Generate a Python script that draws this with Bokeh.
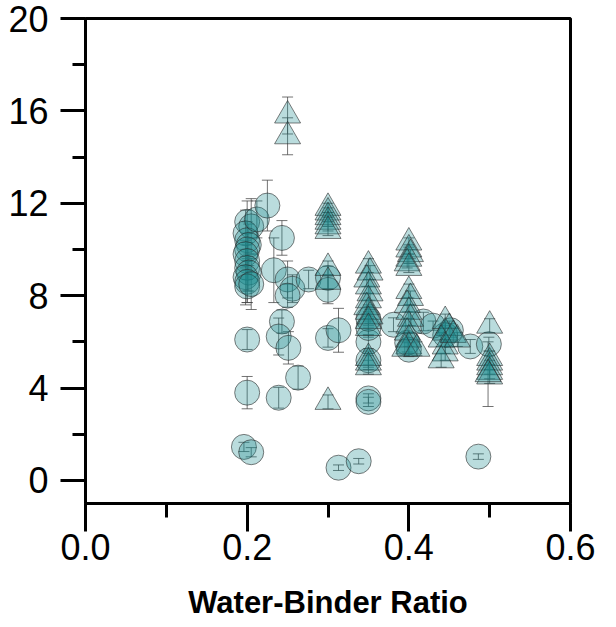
from bokeh.plotting import figure
from bokeh.models import ColumnDataSource, Whisker, TeeHead, FixedTicker, Range1d
from bokeh.embed import file_html
from bokeh.resources import INLINE

# ---- data ----
circle_wb = [0.200, 0.205, 0.198, 0.200, 0.202, 0.200, 0.198, 0.200, 0.200, 0.202,
             0.198, 0.200, 0.200, 0.205, 0.212, 0.225, 0.243, 0.233, 0.250, 0.256,
             0.250, 0.276, 0.300, 0.300, 0.200, 0.200, 0.196, 0.205, 0.243, 0.239,
             0.251, 0.263, 0.239, 0.300, 0.313, 0.313, 0.338, 0.486, 0.350, 0.350,
             0.350, 0.350, 0.350, 0.350, 0.381, 0.418, 0.398, 0.400, 0.452, 0.445,
             0.476, 0.499, 0.430]
circle_strength = [11.2, 11.0, 10.7, 10.4, 10.2, 10.0, 9.8, 9.5, 9.2, 9.0,
                   8.8, 8.6, 8.4, 8.5, 11.3, 11.9, 10.5, 9.1, 8.7, 8.3,
                   8.0, 8.7, 8.77, 8.25, 6.1, 3.8, 1.45, 1.22, 6.88, 6.23,
                   5.74, 4.45, 3.58, 6.17, 6.5, 0.55, 0.83, 1.03, 3.55, 3.4,
                   6.0, 6.6, 7.0, 5.2, 6.74, 6.88, 5.96, 5.66, 6.5, 6.3,
                   5.8, 5.9, 6.7]
circle_err = [0.9, 1.2, 1.0, 0.8, 0.9, 0.7, 0.6, 0.8, 1.0, 0.8,
              1.2, 0.9, 0.7, 1.1, 0.8, 1.1, 0.75, 1.4, 0.8, 0.6,
              0.5, 0.4, 0.5, 0.6, 0.43, 0.7, 0.2, 0.2, 0.5, 0.8,
              0.7, 0.5, 0.45, 0.4, 0.95, 0.12, 0.12, 0.12, 0.2, 0.2,
              0.3, 0.4, 0.3, 0.3, 0.3, 0.4, 0.4, 0.3, 0.3, 0.3,
              0.3, 0.3, 0.2]

tri_wb = [0.250, 0.250,
          0.300, 0.300, 0.300, 0.300, 0.300, 0.300, 0.300, 0.300, 0.300,
          0.350, 0.352, 0.348, 0.350, 0.352, 0.350, 0.348, 0.350, 0.352, 0.350, 0.350,
          0.350, 0.350, 0.350,
          0.400, 0.400, 0.402, 0.400, 0.398, 0.400,
          0.400, 0.402, 0.398, 0.400, 0.402, 0.400, 0.398, 0.400, 0.400, 0.395, 0.410,
          0.445, 0.450, 0.445, 0.440, 0.445, 0.445, 0.440, 0.455, 0.460,
          0.500, 0.500, 0.500, 0.500, 0.500, 0.500, 0.498]
tri_strength = [15.8, 14.9,
                11.8, 11.6, 11.4, 11.2, 11.0, 10.8, 9.2, 8.6, 3.4,
                9.3, 9.0, 8.7, 8.4, 8.1, 7.8, 7.5, 7.3, 7.1, 6.9, 6.6,
                5.3, 5.1, 4.9,
                10.3, 10.0, 9.8, 9.6, 9.4, 9.2,
                8.2, 7.9, 7.6, 7.3, 7.0, 6.7, 6.4, 6.1, 5.8, 5.7, 5.7,
                6.9, 6.6, 6.4, 6.1, 5.8, 5.5, 5.2, 6.3, 6.1,
                6.7, 5.3, 5.1, 4.9, 4.7, 4.5, 4.6]
tri_err = [0.8, 0.8,
           0.2, 0.2, 0.2, 0.2, 0.2, 0.2, 0.3, 0.3, 0.3,
           0.3, 0.3, 0.3, 0.3, 0.3, 0.3, 0.3, 0.3, 0.3, 0.3, 0.3,
           0.3, 0.3, 0.3,
           0.2, 0.2, 0.2, 0.2, 0.2, 0.2,
           0.3, 0.3, 0.3, 0.3, 0.3, 0.3, 0.3, 0.3, 0.3, 0.3, 0.3,
           0.3, 0.3, 0.3, 0.3, 0.3, 0.3, 0.3, 0.3, 0.3,
           0.3, 0.3, 0.3, 0.3, 0.3, 0.3, 1.4]

x_ticks = [0.0, 0.2, 0.4, 0.6]
x_minor = [0.1, 0.3, 0.5]
y_ticks = [0, 4, 8, 12, 16, 20]
y_minor = [2, 6, 10, 14, 18]

# ---- sources ----
csrc = ColumnDataSource(dict(
    x=circle_wb, y=circle_strength,
    lo=[s - e for s, e in zip(circle_strength, circle_err)],
    hi=[s + e for s, e in zip(circle_strength, circle_err)]))
tsrc = ColumnDataSource(dict(
    x=tri_wb, y=tri_strength,
    lo=[s - e for s, e in zip(tri_strength, tri_err)],
    hi=[s + e for s, e in zip(tri_strength, tri_err)]))

p = figure(width=616, height=627, output_backend="svg", toolbar_location=None,
           x_range=Range1d(0, 0.6), y_range=Range1d(-1, 20),
           min_border_left=85, min_border_right=46, min_border_top=18,
           min_border_bottom=124)
p.grid.visible = False
p.background_fill_color = "white"
p.border_fill_color = "white"
p.outline_line_color = "black"
p.outline_line_width = 3
p.outline_line_alpha = 1

FILL = "#1a8a90"
p.scatter("x", "y", source=csrc, marker="circle", size=25,
          fill_color=FILL, fill_alpha=0.3, line_color="#2b2b2b", line_alpha=0.6, line_width=1)
p.scatter("x", "y", source=tsrc, marker="triangle", size=26,
          fill_color=FILL, fill_alpha=0.3, line_color="#2b2b2b", line_alpha=0.6, line_width=1)

for src in (csrc, tsrc):
    w = Whisker(source=src, base="x", lower="lo", upper="hi", dimension="height",
                line_color="#444444", line_alpha=0.75, line_width=1,
                upper_head=TeeHead(size=11, line_color="#444444", line_alpha=0.75, line_width=1),
                lower_head=TeeHead(size=11, line_color="#444444", line_alpha=0.75, line_width=1))
    p.add_layout(w)

# ---- axes ----
p.xaxis.ticker = FixedTicker(ticks=x_ticks, minor_ticks=x_minor)
p.yaxis.ticker = FixedTicker(ticks=y_ticks, minor_ticks=y_minor)
p.xaxis.major_label_overrides = {t: f"{t:.1f}" for t in x_ticks}
p.yaxis.major_label_overrides = {t: str(t) for t in y_ticks}

for ax in (p.xaxis[0], p.yaxis[0]):
    ax.axis_line_color = "black"
    ax.axis_line_width = 3
    ax.major_tick_line_color = "black"
    ax.major_tick_line_width = 3
    ax.minor_tick_line_color = "black"
    ax.minor_tick_line_width = 3
    ax.major_tick_in = 0
    ax.minor_tick_in = 0
    ax.major_label_text_font = "Liberation Sans"
    ax.major_label_text_font_size = "36px"
    ax.major_label_text_color = "black"

p.yaxis.major_tick_out = 25
p.yaxis.minor_tick_out = 13
p.yaxis.major_label_standoff = 12
p.xaxis.major_tick_out = 28
p.xaxis.minor_tick_out = 14
p.xaxis.major_label_standoff = 2

p.xaxis.axis_label = "Water-Binder Ratio"
p.xaxis.axis_label_text_font = "Liberation Sans"
p.xaxis.axis_label_text_font_style = "bold"
p.xaxis.axis_label_text_font_size = "31px"
p.xaxis.axis_label_text_color = "black"
p.xaxis.axis_label_standoff = 22

open("out.html", "w").write(file_html(p, INLINE))
